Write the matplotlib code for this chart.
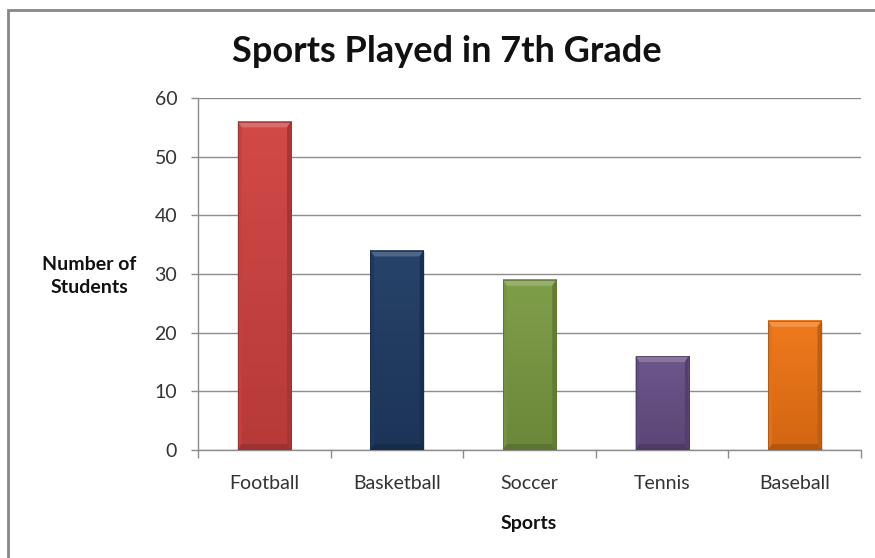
import matplotlib.pyplot as plt
import matplotlib.patches as mpatches
from matplotlib.colors import to_rgb
import numpy as np

sports = ["Football", "Basketball", "Soccer", "Tennis", "Baseball"]
students = [56, 34, 29, 16, 22]
bar_colors = ["#cf4240", "#1f3b63", "#7a9a42", "#674f86", "#ef7414"]

plt.rcParams['font.family'] = ['Lato', 'DejaVu Sans']

fig = plt.figure(figsize=(8.75, 5.58), dpi=100)
ax = fig.add_axes([0.2263, 0.1935, 0.7577, 0.6308])

# outer chart frame (runs off the right and bottom edge)
fig.patches.append(mpatches.Rectangle((7.5 / 875, -0.05), 1.2, 1 - 9.5 / 558 + 0.05,
                                      transform=fig.transFigure, fill=False,
                                      edgecolor="#878787", linewidth=2.0))

x = np.arange(len(sports))
width = 0.4
bars = ax.bar(x, students, width, color=bar_colors, zorder=3, linewidth=0)


def shade(c, f):
    r = np.array(to_rgb(c))
    if f >= 0:
        return tuple(r + (1 - r) * f)
    return tuple(r * (1 + f))


# bevel/gradient on every bar
bx = 0.028  # side bevel in category units
by = 1.0    # top/bottom bevel in value units
for b, c in zip(bars, bar_colors):
    x0, x1 = b.get_x(), b.get_x() + b.get_width()
    h = b.get_height()
    grad = np.linspace(0, 1, 64)[:, None]
    top = np.array(shade(c, 0.04))
    bot = np.array(shade(c, -0.12))
    img = top * (1 - grad[..., None]) + bot * grad[..., None]
    img = np.repeat(img, 2, axis=1)
    ax.imshow(img, extent=(x0, x1, 0, h), aspect='auto', origin='upper', zorder=4)
    # drop shadow
    ax.add_patch(mpatches.Rectangle((x0 + 0.01, -0.3), b.get_width(), h,
                                    facecolor="#000000", alpha=0.14, zorder=2.9,
                                    linewidth=0))
    polys = [
        ([(x0, h), (x1, h), (x1 - bx, h - by), (x0 + bx, h - by)], shade(c, 0.22)),
        ([(x0, 0), (x0, h), (x0 + bx, h - by), (x0 + bx, by)], shade(c, -0.04)),
        ([(x1, 0), (x1, h), (x1 - bx, h - by), (x1 - bx, by)], shade(c, -0.2)),
        ([(x0, 0), (x1, 0), (x1 - bx, by), (x0 + bx, by)], shade(c, -0.25)),
    ]
    for pts, col in polys:
        ax.add_patch(mpatches.Polygon(pts, closed=True, facecolor=col,
                                      edgecolor='none', zorder=5))
    ax.add_patch(mpatches.Rectangle((x0, 0), b.get_width(), h, fill=False,
                                    edgecolor=shade(c, -0.3), linewidth=0.5,
                                    zorder=6))

ax.set_xlim(-0.5, len(sports) - 0.5)
ax.set_ylim(0, 60)
ax.set_yticks(range(0, 61, 10))
ax.yaxis.grid(True, color="#8c8c8c", linewidth=1.0, zorder=0)
ax.set_axisbelow(True)

ax.set_xticks(x)
ax.set_xticklabels(sports)
ax.set_xticks(np.arange(-0.5, len(sports), 1.0), minor=True)
ax.tick_params(axis='x', which='major', length=0, pad=18, labelsize=14,
               labelcolor="#333333")
ax.tick_params(axis='x', which='minor', length=6, color="#8c8c8c", width=1.0)
ax.tick_params(axis='y', length=5, color="#8c8c8c", width=1.0, pad=10,
               labelsize=14, labelcolor="#333333")

for s in ["top", "right"]:
    ax.spines[s].set_visible(False)
for s in ["left", "bottom"]:
    ax.spines[s].set_color("#8c8c8c")
    ax.spines[s].set_linewidth(1.0)

fig.text(447 / 875, 1 - 52 / 558, "Sports Played in 7th Grade", ha='center',
         va='center', fontsize=26, fontweight='bold', color="#111111")
fig.text(89 / 875, 1 - 276 / 558, "Number of\nStudents", ha='center',
         va='center', fontsize=14, fontweight='bold', color="#111111",
         linespacing=1.45)
fig.text(529 / 875, 1 - 523 / 558, "Sports", ha='center', va='center',
         fontsize=14, fontweight='bold', color="#111111")

fig.savefig("out.png", dpi=100)
